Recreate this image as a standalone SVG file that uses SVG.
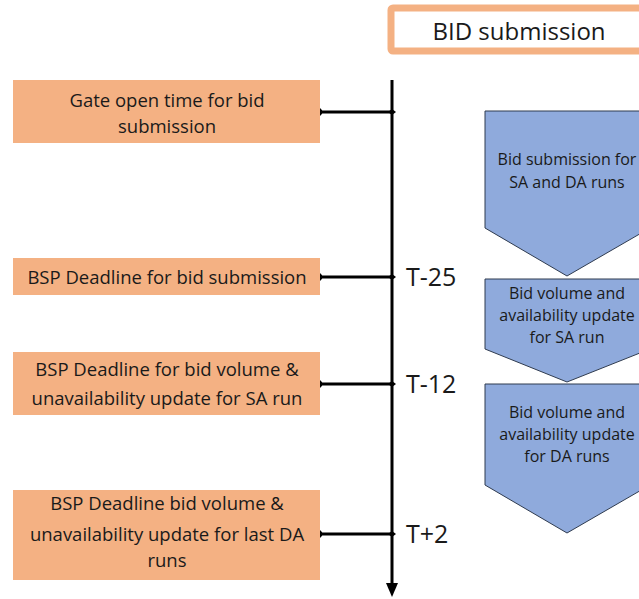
<svg xmlns="http://www.w3.org/2000/svg" width="639" height="599" viewBox="0 0 639 599">
<defs>
<style>
.box{fill:#F4B183;}
.bt{font-family:"Open Sans","Liberation Sans",sans-serif;font-size:18.5px;fill:#1a1a1a;text-anchor:middle;}
.pt{font-family:"Open Sans","Liberation Sans",sans-serif;font-size:16px;fill:#1a1a1a;text-anchor:middle;}
.tl{font-family:"Open Sans","Liberation Sans",sans-serif;font-size:25px;fill:#1a1a1a;}
.pent{fill:#8FAADC;stroke:#2F3B4F;stroke-width:1;}
.con{stroke:#000;stroke-width:3;fill:none;marker-start:url(#ms);marker-end:url(#me);}
</style>
<marker id="ms" markerWidth="6" markerHeight="8" refX="1" refY="4" orient="auto" markerUnits="userSpaceOnUse">
<path d="M0,0 Q5,4 0,8 Z" fill="#000"/>
</marker>
<marker id="me" markerWidth="8" markerHeight="8" refX="4" refY="4" orient="auto" markerUnits="userSpaceOnUse">
<path d="M0,4 L4,1 L8,4 L4,7 Z" fill="#000"/>
</marker>
<marker id="arr" markerWidth="14" markerHeight="14" refX="7" refY="7" orient="auto" markerUnits="userSpaceOnUse">
<path d="M0,1 L14,7 L0,13 Z" fill="#000"/>
</marker>
</defs>

<g id="title">
<rect x="391" y="8" width="260" height="43" fill="#fff" stroke="#F4B183" stroke-width="7" rx="2"/>
<text x="519" y="40" class="tl" style="font-size:24px" text-anchor="middle">BID submission</text>
</g>

<g id="connectors">
<line x1="392" y1="80" x2="392" y2="590" stroke="#000" stroke-width="3" marker-end="url(#arr)"/>
<line class="con" x1="321" y1="112" x2="392" y2="112"/>
<line class="con" x1="321" y1="277" x2="392" y2="277"/>
<line class="con" x1="321" y1="384" x2="392" y2="384"/>
<line class="con" x1="321" y1="534" x2="392" y2="534"/>
</g>

<g id="n1">
<rect class="box" x="13" y="80" width="307" height="63"/>
<text class="bt" x="167" y="107">Gate open time for bid</text>
<text class="bt" x="167" y="133">submission</text>
</g>
<g id="n2">
<rect class="box" x="13" y="258" width="307" height="37"/>
<text class="bt" x="167" y="284">BSP Deadline for bid submission</text>
</g>
<g id="n3">
<rect class="box" x="13" y="352" width="307" height="63"/>
<text class="bt" x="167" y="376">BSP Deadline for bid volume &amp;</text>
<text class="bt" x="167" y="405">unavailability update for SA run</text>
</g>
<g id="n4">
<rect class="box" x="13" y="490" width="307" height="90"/>
<text class="bt" x="167" y="510">BSP Deadline bid volume &amp;</text>
<text class="bt" x="167" y="541">unavailability update for last DA</text>
<text class="bt" x="167" y="567">runs</text>
</g>

<g id="t25"><text class="tl" x="406" y="286">T-25</text></g>
<g id="t12"><text class="tl" x="406" y="393">T-12</text></g>
<g id="t2"><text class="tl" x="406" y="543">T+2</text></g>

<g id="p1">
<polygon class="pent" points="485,111 650,111 650,228 567,276 485,228"/>
<text class="pt" x="567" y="165">Bid submission for</text>
<text class="pt" x="567" y="188">SA and DA runs</text>
</g>
<g id="p2">
<polygon class="pent" points="485,279 650,279 650,349 567,382 485,349"/>
<text class="pt" x="567" y="299">Bid volume and</text>
<text class="pt" x="567" y="321">availability update</text>
<text class="pt" x="567" y="343">for SA run</text>
</g>
<g id="p3">
<polygon class="pent" points="485,384 650,384 650,485 567,533 485,485"/>
<text class="pt" x="567" y="418">Bid volume and</text>
<text class="pt" x="567" y="440">availability update</text>
<text class="pt" x="567" y="462">for DA runs</text>
</g>
</svg>
